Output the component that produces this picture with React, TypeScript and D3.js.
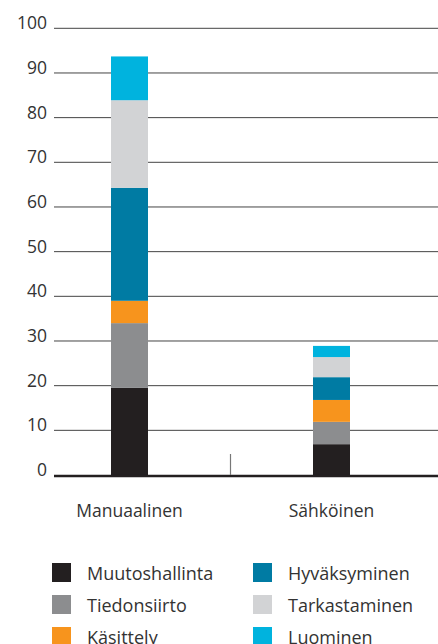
import React from "react";
import * as d3 from "d3";

const categories = ["Manuaalinen", "Sähköinen"];
const seriesNames = ["Muutoshallinta", "Tiedonsiirto", "Käsittely", "Hyväksyminen", "Tarkastaminen", "Luominen"];
const seriesColors = ["#231f20", "#8c8d8f", "#f7941d", "#007ba3", "#d2d3d5", "#00b3de"];
const manuaalinen = [19.5, 14.5, 5.0, 25.3, 19.6, 9.8];
const sahkoinen = [6.9, 5.0, 4.9, 5.1, 4.5, 2.5];
const yTicks = [0, 10, 20, 30, 40, 50, 60, 70, 80, 90, 100];

const W = 438;
const H = 644;
const FONT = "'Open Sans', sans-serif";
const TEXT = "#333333";

export default function App() {
  const y = d3.scaleLinear().domain([0, 100]).range([475, 28.3]);
  const x = d3.scaleBand().domain(categories).range([28.5, 432.5]).padding(0);
  const barW = 37;

  const rows = categories.map((c, i) => {
    const vals = i === 0 ? manuaalinen : sahkoinen;
    const o: any = { cat: c };
    seriesNames.forEach((s, j) => (o[s] = vals[j]));
    return o;
  });
  const stack = d3.stack().keys(seriesNames)(rows as any);

  const legendCols = [52, 253];
  const legendRows = [563, 595, 627];

  return (
    <svg width={W} height={H} style={{ position: "absolute", left: 0, top: 0 }} fontFamily={FONT}>
      <rect width={W} height={H} fill="#fff" />
      {yTicks.map((t) => (
        <g key={t}>
          {t !== 0 && (
            <line x1={54} x2={438} y1={y(t)} y2={y(t)} stroke="#444" strokeWidth={1} />
          )}
          <text x={47} y={y(t) + 1} textAnchor="end" fontSize={17.5} fill={TEXT}>
            {t}
          </text>
        </g>
      ))}
      {stack.map((layer, j) =>
        layer.map((d, i) => (
          <rect
            key={`${j}-${i}`}
            x={(x(categories[i]) as number) + x.bandwidth() / 2 - barW / 2}
            width={barW}
            y={y(d[1])}
            height={y(d[0]) - y(d[1]) + (j === 0 ? 2 : 0)}
            fill={seriesColors[j]}
          />
        ))
      )}
      <line x1={54} x2={438} y1={y(0) + 1} y2={y(0) + 1} stroke="#231f20" strokeWidth={2.5} />
      <line
        x1={x(categories[1]) as number}
        x2={x(categories[1]) as number}
        y1={454}
        y2={y(0)}
        stroke="#777"
        strokeWidth={1.2}
      />
      {categories.map((c) => (
        <text
          key={c}
          x={(x(c) as number) + x.bandwidth() / 2}
          y={517}
          textAnchor="middle"
          fontSize={17.5}
          fill={TEXT}
        >
          {c}
        </text>
      ))}
      {seriesNames.map((s, j) => {
        const col = Math.floor(j / 3);
        const row = j % 3;
        const sx = legendCols[col];
        const sy = legendRows[row];
        return (
          <g key={s}>
            <rect x={sx} y={sy} width={19} height={19} fill={seriesColors[j]} />
            <text x={sx + 35} y={sy + 17} fontSize={18} fill={TEXT}>
              {s}
            </text>
          </g>
        );
      })}
    </svg>
  );
}
